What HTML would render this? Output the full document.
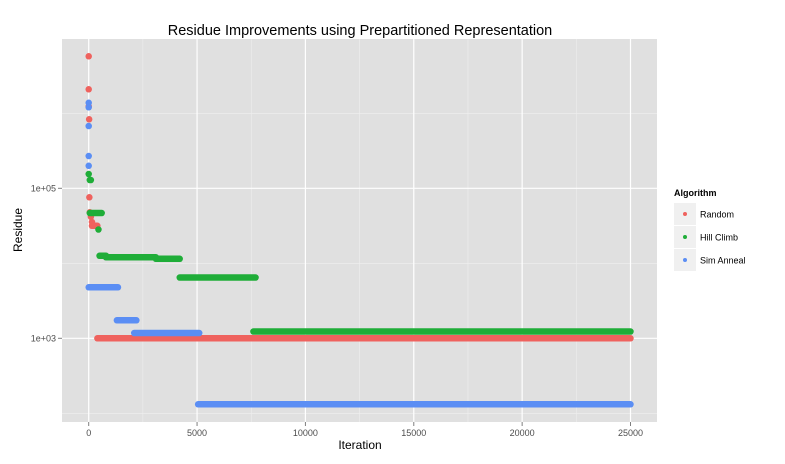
<!DOCTYPE html>
<html><head><meta charset="utf-8"><style>
html,body{margin:0;padding:0;background:#fff;}
svg{display:block;font-family:"Liberation Sans",sans-serif;}
</style></head><body>
<svg id="chart" width="785" height="464">
<rect x="0" y="0" width="785" height="464" fill="#fff"/>
<rect id="panel" x="62" y="39" width="595" height="383" fill="#e0e0e0"/>
<g id="grid"></g>
<g id="marks"></g>
<g id="axes"></g>
<text x="360" y="35" text-anchor="middle" font-size="14.5" fill="#000">Residue Improvements using Prepartitioned Representation</text>
<text x="360" y="449" text-anchor="middle" font-size="12" fill="#000">Iteration</text>
<text transform="translate(22,230) rotate(-90)" text-anchor="middle" font-size="12" fill="#000">Residue</text>
<g>
<text x="674" y="196" font-size="9" font-weight="bold" fill="#000">Algorithm</text>
<g id="legend"></g>
</g>
</svg>
<script>
const seriesNames = ["Random", "Hill Climb", "Sim Anneal"];
const seriesColors = ["#ef625e", "#1fad38", "#5b8ef4"];
// segments: [startIteration, endIteration, log10(residue)]
const randomSegs = [[0,0,6.76],[0,0,6.32],[0,0,6.09],[20,20,5.92],[30,30,4.88],[50,50,4.68],[100,100,4.62],[150,150,4.55],[150,400,4.5],[400,25000,3.0]];
const hillSegs = [[0,0,5.19],[50,100,5.11],[50,600,4.67],[450,450,4.45],[500,800,4.1],[800,3100,4.08],[3100,4200,4.06],[4200,7700,3.81],[7600,25000,3.09]];
const annealSegs = [[0,0,6.14],[0,0,6.08],[0,0,5.83],[0,0,5.43],[0,0,5.30],[0,1350,3.68],[1300,2200,3.24],[2100,5100,3.07],[5050,25000,2.12]];
const xTicks = [0, 5000, 10000, 15000, 20000, 25000];
const xTickLabels = ["0", "5000", "10000", "15000", "20000", "25000"];
const yTicks = [5, 3];
const yTickLabels = ["1e+05", "1e+03"];
const yMinor = [6, 4, 2];

const NS = "http://www.w3.org/2000/svg";
const px0 = 88.7, pxPer = (630.5 - 88.7) / 25000;
const xs = v => px0 + v * pxPer;
const ys = l => 188.3 - (l - 5) * 75;
function mk(tag, attrs, parent) {
  const e = document.createElementNS(NS, tag);
  for (const k in attrs) e.setAttribute(k, attrs[k]);
  parent.appendChild(e);
  return e;
}
const grid = document.getElementById("grid");
const axes = document.getElementById("axes");
const marks = document.getElementById("marks");
yMinor.forEach(l => {
  const e = mk("line", {x1: 62, x2: 657, y1: ys(l), y2: ys(l), stroke: "#efefef", "stroke-width": 0.6}, grid);
  
  
});
for (let i = 0; i < xTicks.length - 1; i++) {
  const m = (xTicks[i] + xTicks[i + 1]) / 2;
  const e = mk("line", {x1: xs(m), x2: xs(m), y1: 39, y2: 422, stroke: "#efefef", "stroke-width": 0.6}, grid);
  
  
}
xTicks.forEach((v, i) => {
  const g = mk("line", {x1: xs(v), x2: xs(v), y1: 39, y2: 422, stroke: "#fff", "stroke-width": 1.2}, grid);
  
  
  const t = mk("line", {x1: xs(v), x2: xs(v), y1: 422, y2: 426, stroke: "#7f7f7f", "stroke-width": 1}, axes);
  
  
  const lb = mk("text", {x: xs(v), y: 436, "text-anchor": "middle", "font-size": 9, fill: "#4d4d4d"}, axes);
  lb.textContent = xTickLabels[i];
  
  
});
yTicks.forEach((l, i) => {
  const g = mk("line", {x1: 62, x2: 657, y1: ys(l), y2: ys(l), stroke: "#fff", "stroke-width": 1.2}, grid);
  
  
  const t = mk("line", {x1: 58, x2: 62, y1: ys(l), y2: ys(l), stroke: "#7f7f7f", "stroke-width": 1}, axes);
  
  
  const lb = mk("text", {x: 56, y: ys(l) + 3, "text-anchor": "end", "font-size": 9, fill: "#4d4d4d"}, axes);
  lb.textContent = yTickLabels[i];
  
  
});
[randomSegs, hillSegs, annealSegs].forEach((segs, si) => {
  segs.forEach(s => {
    const x1 = xs(s[0]), x2 = xs(s[1]), y = ys(s[2]);
    const e = mk("line", {x1: x1, x2: x2 === x1 ? x2 + 0.01 : x2, y1: y, y2: y, stroke: seriesColors[si], "stroke-width": 6.5, "stroke-linecap": "round"}, marks);
    
    
  });
});
const leg = document.getElementById("legend");
seriesNames.forEach((n, i) => {
  const y0 = 203 + i * 23;
  const r = mk("rect", {x: 674, y: y0, width: 22, height: 22, fill: "#f0f0f0"}, leg);
  
  
  const c = mk("circle", {cx: 685, cy: y0 + 11, r: 2, fill: seriesColors[i]}, leg);
  
  
  const t = mk("text", {x: 700, y: y0 + 14.5, "font-size": 9, fill: "#000"}, leg);
  t.textContent = n;
  
  
});
</script>
</body></html>
